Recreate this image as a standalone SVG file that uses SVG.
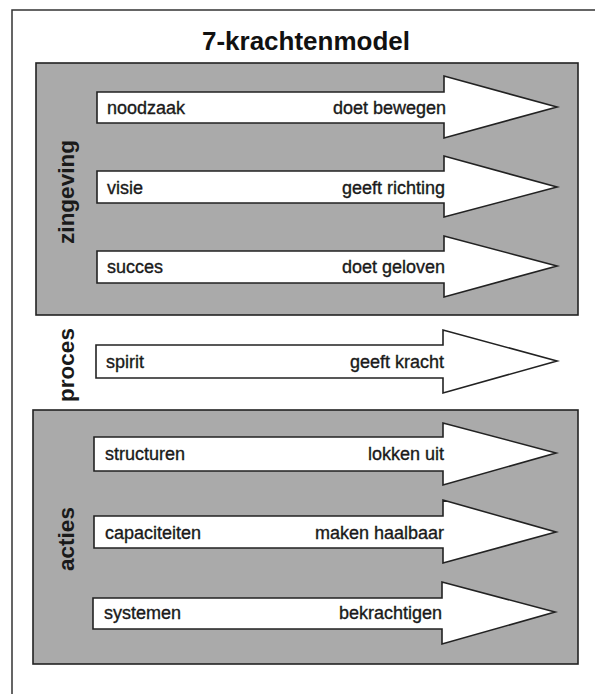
<svg xmlns="http://www.w3.org/2000/svg" width="595" height="694" viewBox="0 0 595 694">
<style>
.frame{fill:none;stroke:#333;stroke-width:1.5}
.panel{fill:#aaaaaa;stroke:#222;stroke-width:1.6}
.arrow{fill:#fff;stroke:#222;stroke-width:1.6;stroke-linejoin:miter}
.t{font-family:"Liberation Sans",Arial,sans-serif;font-size:18px;fill:#1a1a1a;stroke:#1a1a1a;stroke-width:0.35}
.r{text-anchor:end}
.side{font-family:"Liberation Sans",Arial,sans-serif;font-size:22.5px;font-weight:bold;fill:#1a1a1a;text-anchor:middle}
.title{font-family:"Liberation Sans",Arial,sans-serif;font-size:26px;font-weight:bold;fill:#111;text-anchor:middle}
</style>
<rect width="595" height="694" fill="#fff"/>
<path class="frame" d="M595 10 H12 V694"/>
<text class="title" x="306" y="50">7-krachtenmodel</text>
<g id="panel-zingeving">
<rect class="panel" x="36" y="63" width="542" height="252"/>
<text class="side" transform="translate(74,192) rotate(-90)">zingeving</text>
</g>
<g id="label-proces">
<text class="side" transform="translate(74,365) rotate(-90)">proces</text>
</g>
<g id="panel-acties">
<rect class="panel" x="33" y="410" width="545" height="254"/>
<text class="side" transform="translate(74,539) rotate(-90)">acties</text>
</g>
<g id="connectors"></g>
<g id="noodzaak">
<path class="arrow" d="M97 92 H444 V76 L557 107 L444 138 V123 H97 Z"/>
<text class="t" x="107" y="114">noodzaak</text>
<text class="t r" x="446" y="114">doet bewegen</text>
</g>
<g id="visie">
<path class="arrow" d="M97 171 H444 V156 L557 187 L444 217 V203 H97 Z"/>
<text class="t" x="107" y="194">visie</text>
<text class="t r" x="445" y="194">geeft richting</text>
</g>
<g id="succes">
<path class="arrow" d="M97 251 H444 V236 L557 266 L444 297 V283 H97 Z"/>
<text class="t" x="107" y="273">succes</text>
<text class="t r" x="445" y="273">doet geloven</text>
</g>
<g id="spirit">
<path class="arrow" d="M96 345 H443 V330 L557 361 L443 393 V378 H96 Z"/>
<text class="t" x="106" y="368">spirit</text>
<text class="t r" x="444" y="368">geeft kracht</text>
</g>
<g id="structuren">
<path class="arrow" d="M94 437 H443 V423 L556 453 L443 485 V471 H94 Z"/>
<text class="t" x="105" y="460">structuren</text>
<text class="t r" x="444" y="460">lokken uit</text>
</g>
<g id="capaciteiten">
<path class="arrow" d="M94 516 H443 V500 L556 532 L443 563 V548 H94 Z"/>
<text class="t" x="105" y="539">capaciteiten</text>
<text class="t r" x="444" y="539">maken haalbaar</text>
</g>
<g id="systemen">
<path class="arrow" d="M93 598 H442 V582 L555 612 L442 644 V629 H93 Z"/>
<text class="t" x="104" y="619">systemen</text>
<text class="t r" x="442" y="619">bekrachtigen</text>
</g>
</svg>
